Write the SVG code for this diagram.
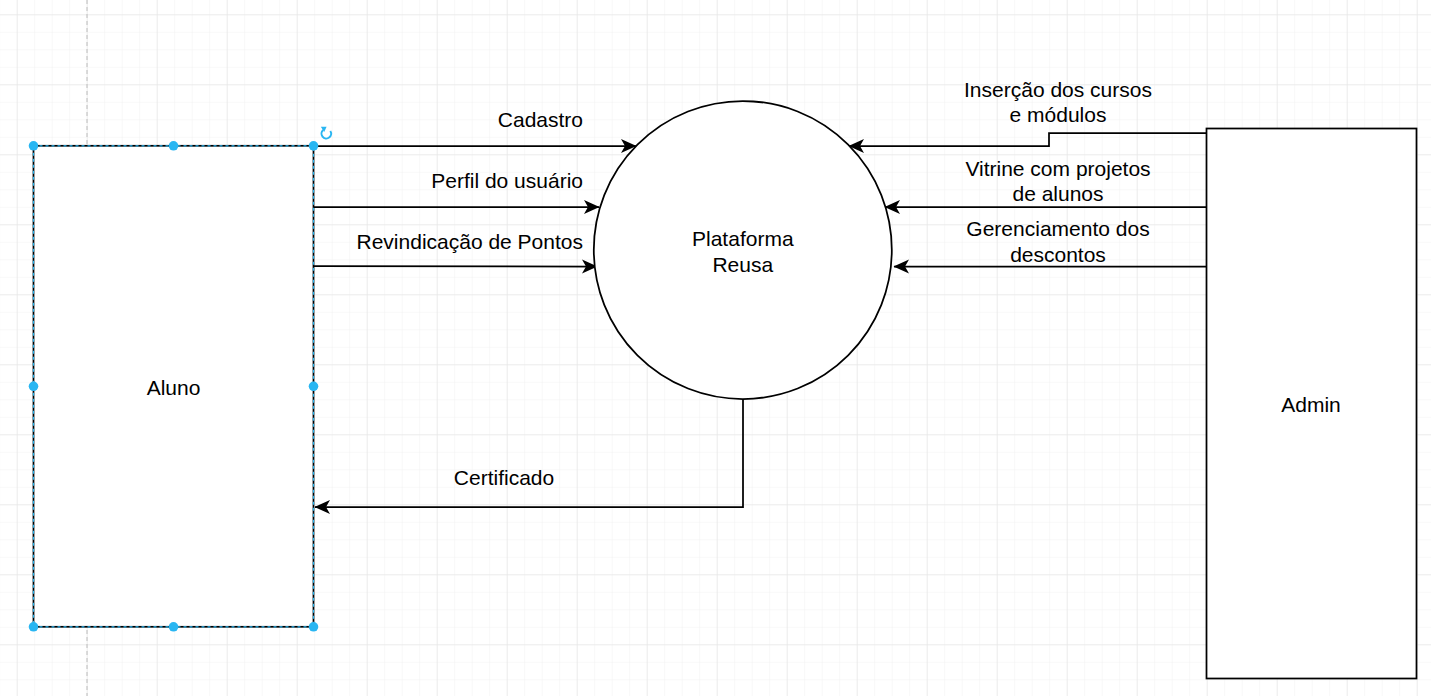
<svg xmlns="http://www.w3.org/2000/svg" width="1431" height="696" viewBox="0 0 1431 696">
  <style>
    .lbl { font-family: "Liberation Sans", Arial, sans-serif; font-size: 21px; fill: #000; }
    .shape { fill: #fff; stroke: #000; stroke-width: 1.75; }
    .edge { fill: none; stroke: #000; stroke-width: 1.75; }
    .handle { fill: #29b6f2; }
  </style>
  <defs>
    <pattern id="minor" patternUnits="userSpaceOnUse" x="16.7" y="14.3" width="17.5" height="17.5">
      <path d="M0,0 H17.5 M0,0 V17.5" stroke="#f1f1f1" stroke-width="1" fill="none"/>
    </pattern>
    <pattern id="major" patternUnits="userSpaceOnUse" x="16.7" y="14.3" width="70" height="70">
      <path d="M0,0 H70 M0,0 V70" stroke="#e2e2e2" stroke-width="1" fill="none"/>
    </pattern>
    <marker id="arrow" markerUnits="userSpaceOnUse" markerWidth="18" markerHeight="18" viewBox="-17 -9 18 18" refX="0" refY="0" orient="auto">
      <path d="M0.5,0 L-15,-7 L-11,0 L-15,7 Z" fill="#000"/>
    </marker>
  </defs>

  <g id="background">
    <rect width="1431" height="696" fill="#fff"/>
    <rect width="1431" height="696" fill="url(#minor)"/>
    <rect width="1431" height="696" fill="url(#major)"/>
    <line x1="87" y1="0" x2="87" y2="696" stroke="#bdbdbd" stroke-width="1" stroke-dasharray="4 3"/>
  </g>

  <g id="connectors">
    <path class="edge" d="M314,146 H636" marker-end="url(#arrow)"/>
    <path class="edge" d="M314,207 H599" marker-end="url(#arrow)"/>
    <path class="edge" d="M314,266 L597,266.5" marker-end="url(#arrow)"/>
    <path class="edge" d="M743,399 V507 H315" marker-end="url(#arrow)"/>
    <path class="edge" d="M1206,133 H1049 V146 H849" marker-end="url(#arrow)"/>
    <path class="edge" d="M1206,207 H885" marker-end="url(#arrow)"/>
    <path class="edge" d="M1206,266.5 H894" marker-end="url(#arrow)"/>
  </g>

  <g id="connector-labels">
    <text class="lbl" x="583" y="126.5" text-anchor="end">Cadastro</text>
    <text class="lbl" x="583" y="187.5" text-anchor="end">Perfil do usuário</text>
    <text class="lbl" x="583" y="248.5" text-anchor="end">Revindicação de Pontos</text>
    <text class="lbl" x="504" y="484.5" text-anchor="middle">Certificado</text>
    <text class="lbl" x="1058" y="96.5" text-anchor="middle">Inserção dos cursos</text>
    <text class="lbl" x="1058" y="122.2" text-anchor="middle">e módulos</text>
    <text class="lbl" x="1058" y="175.5" text-anchor="middle">Vitrine com projetos</text>
    <text class="lbl" x="1058" y="201.2" text-anchor="middle">de alunos</text>
    <text class="lbl" x="1058" y="236.2" text-anchor="middle">Gerenciamento dos</text>
    <text class="lbl" x="1058" y="262.2" text-anchor="middle">descontos</text>
  </g>

  <g id="node-plataforma">
    <circle class="shape" cx="742.8" cy="250" r="149"/>
    <text class="lbl" x="742.8" y="245.5" text-anchor="middle">Plataforma</text>
    <text class="lbl" x="742.8" y="271.5" text-anchor="middle">Reusa</text>
  </g>

  <g id="node-admin">
    <rect class="shape" x="1206.5" y="128.5" width="210" height="550"/>
    <text class="lbl" x="1311" y="412" text-anchor="middle">Admin</text>
  </g>

  <g id="node-aluno">
    <rect class="shape" x="33.5" y="145.8" width="280" height="481"/>
    <rect x="33.5" y="145.8" width="280" height="481" fill="none" stroke="#29b6f2" stroke-width="1.2" stroke-dasharray="3 3"/>
    <text class="lbl" x="173.5" y="394.5" text-anchor="middle">Aluno</text>
    <g id="selection-handles">
      <circle class="handle" cx="33.5" cy="145.8" r="4.8"/>
      <circle class="handle" cx="173.5" cy="145.8" r="4.8"/>
      <circle class="handle" cx="313.5" cy="145.8" r="4.8"/>
      <circle class="handle" cx="33.5" cy="386.3" r="4.8"/>
      <circle class="handle" cx="313.5" cy="386.3" r="4.8"/>
      <circle class="handle" cx="33.5" cy="626.8" r="4.8"/>
      <circle class="handle" cx="173.5" cy="626.8" r="4.8"/>
      <circle class="handle" cx="313.5" cy="626.8" r="4.8"/>
      <path d="M330.3,131 A4.8,4.8 0 1 1 323.2,130.0" fill="none" stroke="#29b6f2" stroke-width="2"/>
      <path d="M320.8,126.8 L326.6,126.8 L324.2,132 Z" fill="#29b6f2"/>
    </g>
  </g>
</svg>
